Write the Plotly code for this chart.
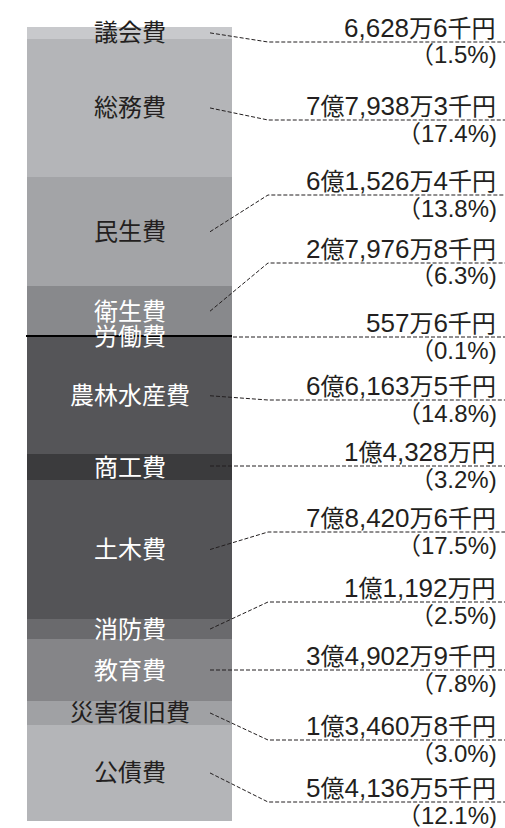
import re
import plotly.graph_objects as go

# ---- data ----
categories = ["議会費", "総務費", "民生費", "衛生費", "労働費", "農林水産費",
              "商工費", "土木費", "消防費", "教育費", "災害復旧費", "公債費"]
values_man_yen = [6628.6, 77938.3, 61526.4, 27976.8, 557.6, 66163.5,
                  14328.0, 78420.6, 11192.0, 34902.9, 13460.8, 54136.5]
value_labels = ["6,628万6千円", "7億7,938万3千円", "6億1,526万4千円", "2億7,976万8千円",
                "557万6千円", "6億6,163万5千円", "1億4,328万円", "7億8,420万6千円",
                "1億1,192万円", "3億4,902万9千円", "1億3,460万8千円", "5億4,136万5千円"]
pct_labels = ["（1.5%)", "（17.4%)", "（13.8%)", "（6.3%)", "（0.1%)", "（14.8%)",
              "（3.2%)", "（17.5%)", "（2.5%)", "（7.8%)", "（3.0%)", "（12.1%)"]

# ---- style ----
colors = ["#c8c9cc", "#b4b5b8", "#a3a4a7", "#88898c", "#000000", "#555558",
          "#3b3b3d", "#545457", "#6a6a6d", "#858588", "#a0a1a4", "#b4b5b8"]
label_colors = ["#231f20", "#231f20", "#231f20", "#ffffff", "#ffffff", "#ffffff",
                "#ffffff", "#ffffff", "#ffffff", "#ffffff", "#231f20", "#231f20"]
# pixel row of each leader's horizontal rule (label layout)
rule_px = [42, 120, 195, 263, 337, 400, 466, 532, 602, 670, 740, 802]
# leader start x (pixel units)
start_x = [210, 210, 210, 210, 233, 210, 210, 210, 210, 210, 210, 210]

W, H = 505, 828
BAR_TOP, BAR_BOT = 27, 821
BAR_L, BAR_R = 27, 232
FONT = "Liberation Sans, Noto Sans CJK JP, sans-serif"

total = sum(values_man_yen)
k = total / (BAR_BOT - BAR_TOP)


def px_of(v):
    return BAR_TOP + v / total * (BAR_BOT - BAR_TOP)


def paper(px):
    return 1 - px / H


def big_digits(s):
    return re.sub(r"([0-9,]+)", r"<span style='font-size:26px'>\1</span>", s)


fig = go.Figure()
cum = 0.0
mids = []
for cat, v, c in zip(categories, values_man_yen, colors):
    fig.add_trace(go.Bar(
        x=[(BAR_L + BAR_R) / 2], y=[v], width=[BAR_R - BAR_L], name=cat,
        marker=dict(color=c, line=dict(width=1.2 if c == "#000000" else 0, color="#000000")),
        hoverinfo="name+y", showlegend=False,
    ))
    mids.append(cum + v / 2)
    cum += v

annotations = []
shapes = []
for i, cat in enumerate(categories):
    mid_px = px_of(mids[i])
    annotations.append(dict(
        x=(BAR_L + BAR_R) / 2, y=mids[i], xref="x", yref="y", text=cat,
        showarrow=False, xanchor="center", yanchor="middle",
        font=dict(family=FONT, size=24, color=label_colors[i]),
    ))
    ry = rule_px[i]
    annotations.append(dict(
        x=498 / W, y=paper(ry - 14), xref="paper", yref="paper", text=big_digits(value_labels[i]),
        showarrow=False, xanchor="right", yanchor="middle",
        font=dict(family=FONT, size=24, color="#231f20"),
    ))
    annotations.append(dict(
        x=499 / W, y=paper(ry + 13), xref="paper", yref="paper", text=pct_labels[i],
        showarrow=False, xanchor="right", yanchor="middle",
        font=dict(family=FONT, size=24, color="#231f20"),
    ))
    sx = start_x[i]
    if abs(mid_px - ry) < 4 or sx > BAR_R:
        path = f"M {sx},{paper(ry)} L {W},{paper(ry)}"
    else:
        path = f"M {sx},{paper(mid_px)} L 268,{paper(ry)} L {W},{paper(ry)}"
    shapes.append(dict(type="path", path=path, xref="x", yref="paper",
                       line=dict(color="#231f20", width=1, dash="4px,2px")))

fig.update_layout(
    width=W, height=H, margin=dict(l=0, r=0, t=0, b=0),
    paper_bgcolor="white", plot_bgcolor="white",
    barmode="stack", bargap=0,
    xaxis=dict(range=[0, W], visible=False, fixedrange=True),
    yaxis=dict(range=[total + (H - BAR_BOT) * k, -BAR_TOP * k], visible=False, fixedrange=True),
    annotations=annotations, shapes=shapes,
)

fig.write_html(
    "out.html",
    config={"displayModeBar": False},
    post_script="document.body.style.margin='0';document.body.style.overflow='hidden';",
)
